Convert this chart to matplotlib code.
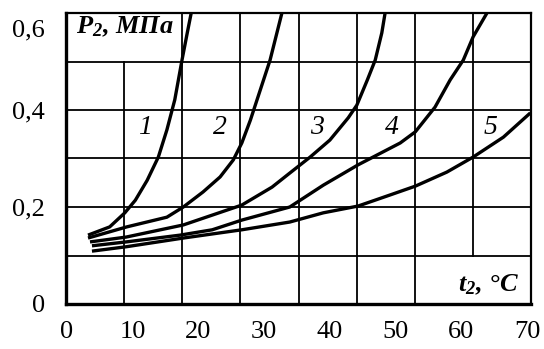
import numpy as np
import matplotlib.pyplot as plt
from matplotlib.transforms import ScaledTranslation

plt.rcParams['font.family'] = ['Liberation Serif', 'DejaVu Serif']
plt.rcParams['mathtext.fontset'] = 'custom'
plt.rcParams['mathtext.rm'] = 'Liberation Serif'
plt.rcParams['mathtext.it'] = 'Liberation Serif:italic'
plt.rcParams['mathtext.bf'] = 'Liberation Serif:bold:italic'

# curves P2(t2)
t1 = [3.2, 6.5, 8.8, 10.4, 12.2, 13.9, 15.2, 16.4, 17.5, 18.3, 18.9]
p1 = [0.142, 0.159, 0.188, 0.214, 0.255, 0.303, 0.359, 0.421, 0.503, 0.559, 0.600]

t2 = [3.2, 9.1, 15.2, 17.7, 20.7, 23.3, 25.3, 26.6, 27.9, 29.4, 30.9, 32.7]
p2 = [0.136, 0.159, 0.179, 0.200, 0.231, 0.262, 0.297, 0.332, 0.379, 0.441, 0.503, 0.600]

t3 = [3.5, 9.0, 17.7, 26.6, 31.2, 33.9, 37.0, 40.0, 42.8, 44.1, 45.7, 46.9, 47.9, 48.4]
p3 = [0.128, 0.138, 0.163, 0.204, 0.241, 0.270, 0.303, 0.338, 0.384, 0.410, 0.462, 0.503, 0.559, 0.600]

t4 = [3.8, 9.0, 17.2, 22.1, 26.6, 31.2, 33.9, 39.0, 44.3, 50.7, 53.0, 56.0, 58.3, 60.3,
      61.8, 63.9]
p4 = [0.120, 0.128, 0.142, 0.153, 0.173, 0.190, 0.200, 0.245, 0.287, 0.332, 0.355, 0.406,
      0.462, 0.503, 0.551, 0.600]

t5 = [3.8, 9.0, 17.7, 26.6, 33.9, 39.0, 44.3, 49.2, 53.0, 57.8, 61.8, 66.4, 70.5]
p5 = [0.109, 0.118, 0.136, 0.153, 0.169, 0.188, 0.202, 0.225, 0.243, 0.272, 0.303, 0.344, 0.394]

curve_names = ['1', '2', '3', '4', '5']
label_t = [11.9, 23.3, 38.1, 49.5, 64.4]
label_p = 0.363

x_ticks = [0, 10, 20, 30, 40, 50, 60, 70]
y_ticks = [0, 0.2, 0.4, 0.6]
y_labels = ['0', '0,2', '0,4', '0,6']

fig = plt.figure(figsize=(5.44, 3.49), dpi=100)
ax = fig.add_axes([66 / 544, 1 - 304 / 349, 465 / 544, 291 / 349])
xmin, xmax = -0.15, 70.6
ax.set_xlim(xmin, xmax)
ax.set_ylim(0, 0.6)

# the grid of the original is 8 x 6 cells, not tied to the x ticks
gx = np.linspace(xmin, xmax, 9)[1:-1]
gy = np.arange(0.1, 0.6, 0.1)
for i, x in enumerate(gx):
    lo, hi = 0, 0.6
    if i == 0:
        hi = 0.5   # leave room for the P2 label
    if i == len(gx) - 1:
        lo = 0.1   # leave room for the t2 label
    ax.plot([x, x], [lo, hi], color='k', lw=1.3, zorder=1)
for y in gy:
    ax.axhline(y, color='k', lw=1.3, zorder=1)

for t, p in zip([t1, t2, t3, t4, t5], [p1, p2, p3, p4, p5]):
    ax.plot(t, p, color='k', lw=2.4, solid_capstyle='butt', solid_joinstyle='round', zorder=3)

for name, t in zip(curve_names, label_t):
    ax.text(t, label_p, name, style='italic', fontsize=20,
            ha='center', va='center', zorder=4)

ax.text(1.4, 0.572, 'P$_\\mathbf{2}$, МПа', fontsize=19, fontweight='bold',
        style='italic', ha='left', va='center', zorder=4)
ax.text(68.8, 0.04, 't$_\\mathbf{2}$, °C', fontsize=19, fontweight='bold',
        style='italic', ha='right', va='center', zorder=4)

ax.set_xticks(x_ticks)
ax.set_yticks(y_ticks)
ax.set_yticklabels(y_labels)
ax.tick_params(length=0, labelsize=19, pad=12)
ax.tick_params(axis='y', pad=15)
# top label sits a little lower, like in the print
lab = ax.get_yticklabels()[-1]
lab.set_transform(lab.get_transform() + ScaledTranslation(0, -15 / 100, fig.dpi_scale_trans))

for side in ['left', 'bottom']:
    ax.spines[side].set_linewidth(2.4)
for side in ['top', 'right']:
    ax.spines[side].set_linewidth(1.6)

fig.savefig('out.png', dpi=100)
